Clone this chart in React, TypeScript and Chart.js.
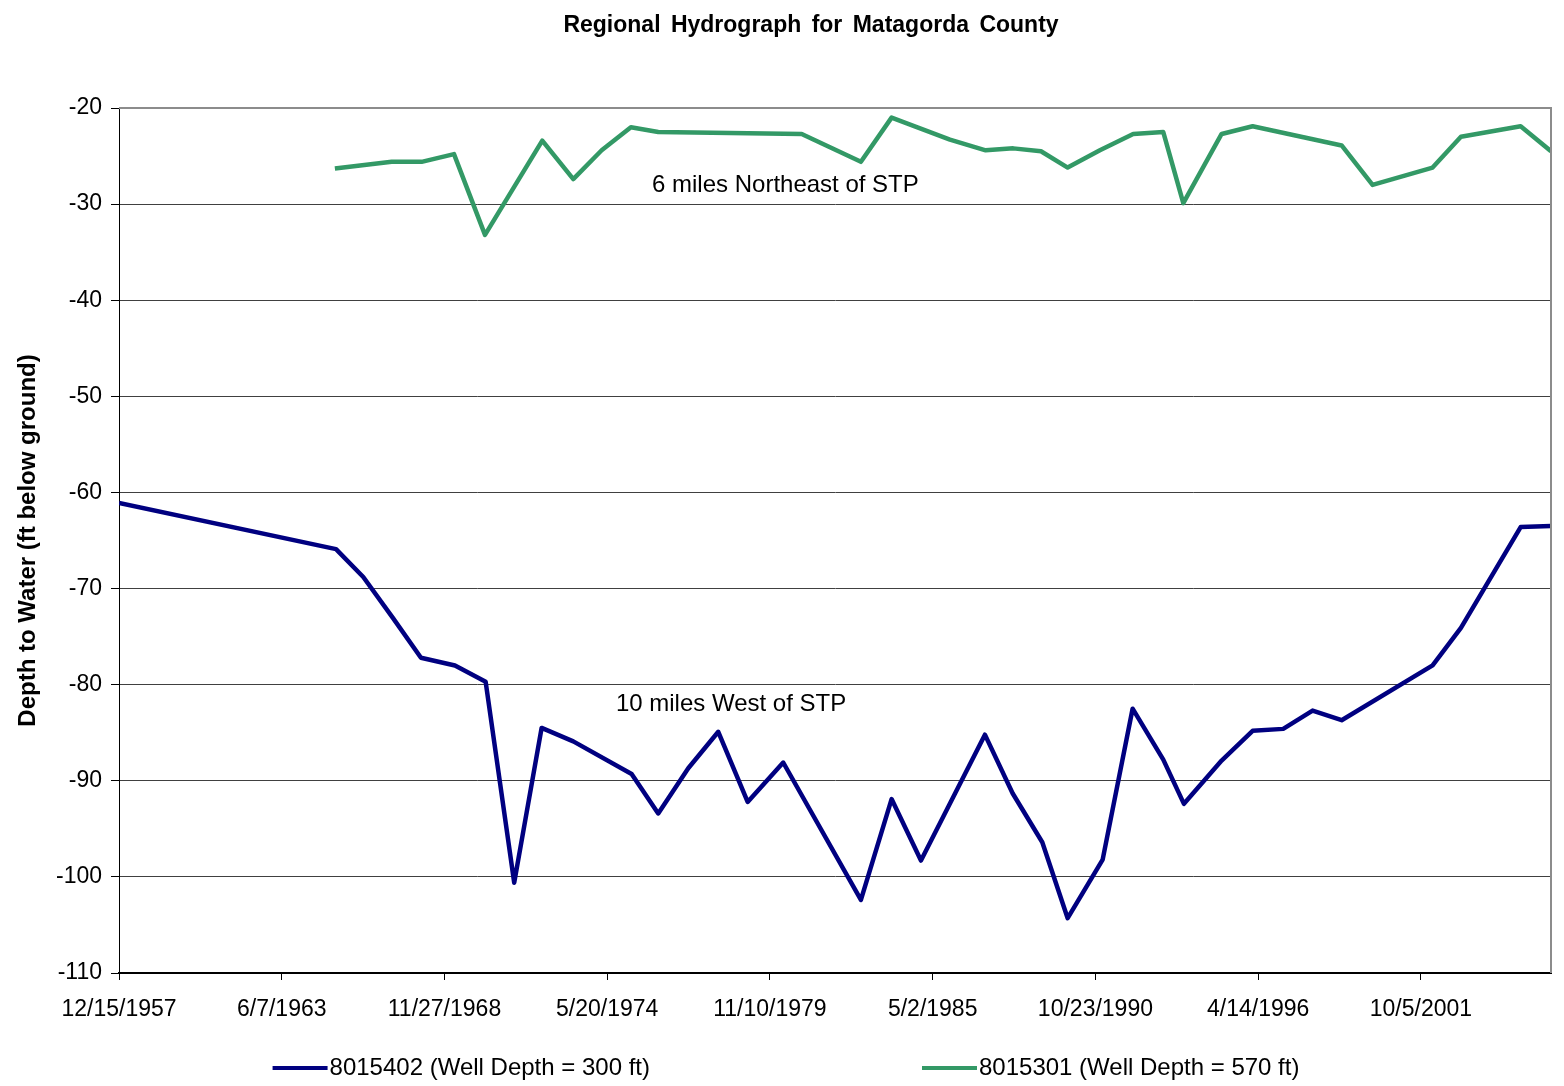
import { useEffect, useRef } from 'react';
import { Chart, registerables } from 'chart.js';

Chart.register(...registerables);

// ---------- text ----------
const CHART_TITLE = 'Regional Hydrograph for Matagorda County';
const Y_AXIS_TITLE = 'Depth to Water (ft below ground)';

// ---------- series: 8015402 (Well Depth = 300 ft) ----------
const WELL_8015402_LABEL = '8015402 (Well Depth = 300 ft)';
const WELL_8015402_DATES = [
  '1957-12-15', '1965-04-04', '1966-03-05', '1967-03-08', '1968-02-12', '1969-04-05',
  '1970-04-17', '1971-04-03', '1972-03-05', '1973-03-29', '1975-03-16', '1976-02-06',
  '1977-02-09', '1978-02-13', '1979-02-09', '1980-04-21', '1982-12-02', '1983-12-14',
  '1984-12-09', '1987-02-03', '1988-01-09', '1989-01-08', '1989-11-16', '1991-01-20',
  '1992-01-23', '1993-02-03', '1993-10-15', '1995-01-21', '1996-02-06', '1997-02-16',
  '1998-02-12', '1999-02-04', '2002-02-26', '2003-02-09', '2005-02-12', '2006-02-20',
];
const WELL_8015402_DEPTH = [
  -61.1, -65.9, -68.8, -73.1, -77.2, -78.0,
  -79.7, -100.6, -84.5, -85.9, -89.3, -93.4,
  -88.7, -84.9, -92.2, -88.1, -102.4, -91.9,
  -98.3, -85.2, -91.3, -96.4, -104.3, -98.2,
  -82.5, -87.8, -92.4, -87.9, -84.8, -84.6,
  -82.7, -83.7, -78.0, -74.1, -63.6, -63.5,
];

// ---------- series: 8015301 (Well Depth = 570 ft) ----------
const WELL_8015301_LABEL = '8015301 (Well Depth = 570 ft)';
const WELL_8015301_DATES = [
  '1965-03-21', '1967-02-17', '1968-02-20', '1969-03-24', '1970-04-09', '1972-03-13',
  '1973-03-29', '1974-03-13', '1975-03-07', '1976-02-06', '1980-12-04', '1982-12-02',
  '1983-12-14', '1985-11-30', '1987-02-12', '1988-01-17', '1988-12-23', '1989-11-16',
  '1990-12-17', '1992-01-30', '1993-02-03', '1993-10-07', '1995-01-21', '1996-02-06',
  '1999-02-04', '2000-02-19', '2002-02-26', '2003-02-09', '2005-02-12', '2006-02-20',
];
const WELL_8015301_DEPTH = [
  -26.3, -25.6, -25.6, -24.8, -33.2, -23.4,
  -27.4, -24.4, -22.0, -22.5, -22.7, -25.6,
  -21.0, -23.3, -24.4, -24.2, -24.5, -26.2,
  -24.4, -22.7, -22.5, -29.9, -22.7, -21.9,
  -23.9, -28.0, -26.2, -23.0, -21.9, -24.5,
];

// ---------- axes ----------
const Y_MIN = -110;
const Y_MAX = -20;
const Y_STEP = 10;
const X_STEP_DAYS = 2000;

// ---------- in-plot labels ----------
const NOTE_TEXTS = ['6 miles Northeast of STP', '10 miles West of STP'];
const NOTE_DATES = ['1980-05-18', '1978-07-20'];
const NOTE_DEPTHS = [-28.0, -82.1];

// ---------- styles ----------
const COLOR_8015402 = '#000080';
const COLOR_8015301 = '#339966';
const FONT_FAMILY = '"Liberation Sans", Arial, Helvetica, sans-serif';

const DAY_MS = 86400000;
const ALL_DATES = [...WELL_8015402_DATES, ...WELL_8015301_DATES];
const START_MS = Math.min(...ALL_DATES.map((d) => Date.parse(d)));
const END_MS = Math.max(...ALL_DATES.map((d) => Date.parse(d)));
const X_MAX_DAYS = Math.round((END_MS - START_MS) / DAY_MS);
const toDay = (d: string) => Math.round((Date.parse(d) - START_MS) / DAY_MS);
const fmtDay = (v: number) => {
  const dt = new Date(START_MS + v * DAY_MS);
  return `${dt.getUTCMonth() + 1}/${dt.getUTCDate()}/${dt.getUTCFullYear()}`;
};

const decorPlugin = {
  id: 'decor',
  afterDatasetsDraw(chart: any) {
    const { ctx, chartArea } = chart;
    ctx.save();
    ctx.strokeStyle = '#8c8c8c';
    ctx.lineWidth = 2;
    ctx.beginPath();
    ctx.moveTo(chartArea.left, chartArea.top);
    ctx.lineTo(chartArea.right, chartArea.top);
    ctx.lineTo(chartArea.right, chartArea.bottom);
    ctx.stroke();
    ctx.restore();
  },
  afterDraw(chart: any) {
    const { ctx, scales } = chart;
    ctx.save();
    // title
    ctx.fillStyle = '#000';
    ctx.font = `bold 23px ${FONT_FAMILY}`;
    ctx.textAlign = 'center';
    ctx.textBaseline = 'alphabetic';
    if ('wordSpacing' in ctx) (ctx as any).wordSpacing = '4px';
    ctx.fillText(CHART_TITLE, 811, 32);
    if ('wordSpacing' in ctx) (ctx as any).wordSpacing = '0px';

    // notes
    ctx.font = `24px ${FONT_FAMILY}`;
    ctx.textBaseline = 'middle';
    NOTE_TEXTS.forEach((t, i) => {
      const x = scales.x.getPixelForValue(toDay(NOTE_DATES[i]));
      const y = scales.y.getPixelForValue(NOTE_DEPTHS[i]);
      ctx.fillText(t, x, y);
    });

    // legend
    const items = chart.data.datasets.map((ds: any) => ({ label: ds.label, color: ds.borderColor }));
    const lineLen = 55;
    const textGap = 2;
    const itemGap = 272;
    ctx.font = `24px ${FONT_FAMILY}`;
    const widths = items.map((it: any) => lineLen + textGap + ctx.measureText(it.label).width);
    const total = widths.reduce((a: number, b: number) => a + b, 0) + itemGap * (items.length - 1);
    let x = 786 - total / 2;
    const y = 1068;
    ctx.textAlign = 'left';
    items.forEach((it: any, i: number) => {
      ctx.strokeStyle = it.color;
      ctx.lineWidth = 4;
      ctx.beginPath();
      ctx.moveTo(x, y);
      ctx.lineTo(x + lineLen, y);
      ctx.stroke();
      ctx.fillStyle = '#000';
      ctx.fillText(it.label, x + lineLen + textGap, y);
      x += widths[i] + itemGap;
    });
    ctx.restore();
  },
};

export default function App() {
  const ref = useRef<HTMLCanvasElement | null>(null);

  useEffect(() => {
    if (!ref.current) return;
    Chart.defaults.font.family = FONT_FAMILY;
    const chart = new Chart(ref.current, {
      type: 'line',
      data: {
        datasets: [
          {
            label: WELL_8015402_LABEL,
            data: WELL_8015402_DATES.map((d, i) => ({ x: toDay(d), y: WELL_8015402_DEPTH[i] })),
            borderColor: COLOR_8015402,
            backgroundColor: COLOR_8015402,
            borderWidth: 4.5,
            pointRadius: 0,
            tension: 0,
            fill: false,
            borderJoinStyle: 'round',
          },
          {
            label: WELL_8015301_LABEL,
            data: WELL_8015301_DATES.map((d, i) => ({ x: toDay(d), y: WELL_8015301_DEPTH[i] })),
            borderColor: COLOR_8015301,
            backgroundColor: COLOR_8015301,
            borderWidth: 4.5,
            pointRadius: 0,
            tension: 0,
            fill: false,
            borderJoinStyle: 'round',
          },
        ],
      },
      options: {
        responsive: false,
        animation: false,
        layout: { padding: { top: 108, right: 13, bottom: 53, left: 0 } },
        plugins: {
          legend: { display: false },
          title: { display: false },
          tooltip: { enabled: false },
        },
        scales: {
          x: {
            type: 'linear',
            min: 0,
            max: X_MAX_DAYS,
            afterFit: (s: any) => { s.height = 60; },
            afterBuildTicks: (s: any) => {
              const t = [];
              for (let v = 0; v <= X_MAX_DAYS; v += X_STEP_DAYS) t.push({ value: v });
              s.ticks = t;
            },
            ticks: {
              autoSkip: false,
              maxRotation: 0,
              padding: 16,
              color: '#000',
              font: { size: 23 },
              callback: (v: any) => fmtDay(Number(v)),
            },
            grid: {
              drawOnChartArea: false,
              drawTicks: true,
              tickLength: 7,
              tickColor: '#000',
              tickWidth: 1,
            },
            border: { display: true, color: '#000', width: 2 },
          },
          y: {
            type: 'linear',
            min: Y_MIN,
            max: Y_MAX,
            afterFit: (s: any) => { s.width = 119; },
            ticks: {
              stepSize: Y_STEP,
              padding: 9,
              color: '#000',
              font: { size: 23 },
            },
            grid: {
              color: (c: any) => (c.tick && c.tick.value === Y_MAX ? 'rgba(0,0,0,0)' : '#404040'),
              lineWidth: 1,
              drawTicks: true,
              tickLength: 8,
              tickColor: '#000',
            },
            border: { display: true, color: '#000', width: 1 },
            title: {
              display: true,
              text: Y_AXIS_TITLE,
              color: '#000',
              font: { size: 24, weight: 'bold' },
              padding: { top: 14, bottom: 0 },
            },
          },
        },
      },
      plugins: [decorPlugin],
    } as any);
    return () => chart.destroy();
  }, []);

  return (
    <div style={{ position: 'fixed', left: 0, top: 0, width: 1564, height: 1086, background: '#fff' }}>
      <canvas ref={ref} width={1564} height={1086} style={{ display: 'block' }} />
    </div>
  );
}
